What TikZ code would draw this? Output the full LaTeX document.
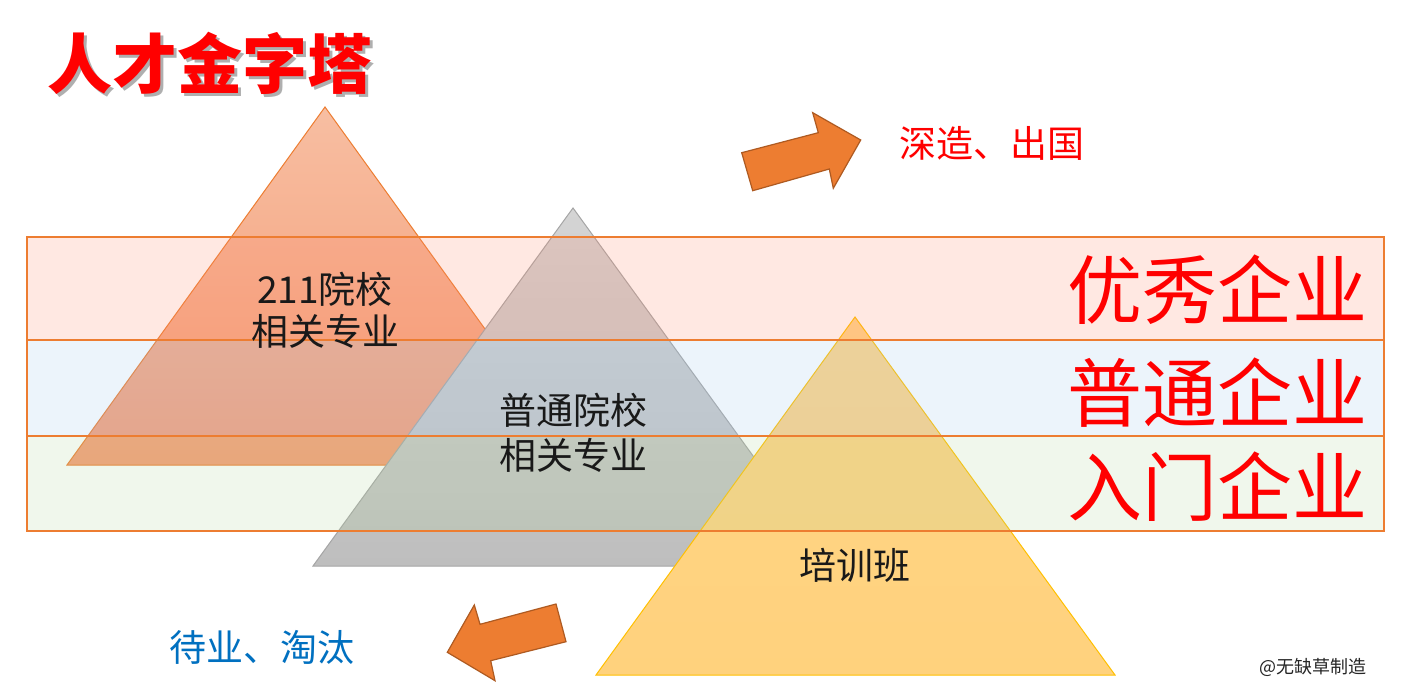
\documentclass[tikz,border=0pt]{standalone}
\usepackage{fontspec}
\newfontfamily\cjk{Noto Sans CJK SC}
\usetikzlibrary{calc}
\definecolor{titlered}{RGB}{255,0,0}
\definecolor{titleshadow}{RGB}{175,175,175}
\definecolor{arroworange}{RGB}{237,125,49}
\definecolor{arrowedge}{RGB}{174,90,33}
\definecolor{bandline}{RGB}{237,125,49}
\definecolor{bandpink}{RGB}{255,140,110}
\definecolor{bandblue}{RGB}{160,200,235}
\definecolor{bandgreen}{RGB}{180,215,160}
\definecolor{triAtop}{RGB}{247,190,162}
\definecolor{triAbot}{RGB}{245,155,115}
\definecolor{triAedge}{RGB}{237,125,49}
\definecolor{triBtop}{RGB}{212,212,212}
\definecolor{triBbot}{RGB}{190,190,190}
\definecolor{triBedge}{RGB}{165,165,165}
\definecolor{triCtop}{RGB}{255,212,135}
\definecolor{triCbot}{RGB}{255,210,125}
\definecolor{triCedge}{RGB}{255,192,0}
\definecolor{blueword}{RGB}{0,112,192}
\tikzset{
  bigarrow/.style={fill=arroworange, draw=arrowedge, line width=1.2pt, line join=miter},
  bandfill/.style={fill opacity=0.2},
  bandedge/.style={draw=bandline, line width=2pt},
  tritext/.style={font=\cjk\fontsize{37}{44}\selectfont, text=black!90, align=center, inner sep=0pt},
  bandlabel/.style={font=\cjk\fontsize{75}{80}\selectfont, text=titlered, inner sep=0pt, anchor=east},
  sidetext/.style={font=\cjk\fontsize{37}{44}\selectfont, inner sep=0pt},
}
\begin{document}
\begin{tikzpicture}[x=1pt,y=-1pt]
\useasboundingbox (0,0) rectangle (1415,690);
\fill[white] (0,0) rectangle (1415,690);
% triangles
\shadedraw[top color=triAtop, bottom color=triAbot, draw=triAedge, line width=1pt]
  (325,107) -- (583,465) -- (67,465) -- cycle;
\shadedraw[top color=triBtop, bottom color=triBbot, draw=triBedge, line width=1pt]
  (573,208) -- (833,566) -- (313,566) -- cycle;
\shadedraw[top color=triCtop, bottom color=triCbot, draw=triCedge, line width=1pt]
  (855,317) -- (1115,675) -- (596,675) -- cycle;
% bands
\fill[bandpink, bandfill] (27,237) rectangle (1384,340);
\fill[bandblue, bandfill] (27,340) rectangle (1384,436);
\fill[bandgreen, bandfill] (27,436) rectangle (1384,531);
\draw[bandedge] (27,237) rectangle (1384,340);
\draw[bandedge] (27,340) rectangle (1384,436);
\draw[bandedge] (27,436) rectangle (1384,531);
% arrows
\draw[bigarrow] (741.7,152.7) -- (818.3,132.7) -- (812.7,112.7) -- (860.7,140) -- (833.3,188.3) -- (829.3,169) -- (752.7,190.7) -- cycle;
\draw[bigarrow] (556,604) -- (566,641.7) -- (490.7,660.7) -- (495,680.7) -- (447.3,652.3) -- (474.3,605) -- (480,624.3) -- cycle;
% title with soft shadow (single node)
\node[font=\cjk\bfseries\fontsize{65}{70}\selectfont, text=titlered, inner sep=0pt] (title) at (210,65)
  {\makebox[0pt][l]{\kern3pt\raisebox{-3pt}{\textcolor{titleshadow}{人才金字塔}}}人才金字塔};
% triangle texts
\node[tritext] (t211a) at (325,289) {211院校};
\node[tritext] (t211b) at (325,331) {相关专业};
\node[tritext] (tputa) at (573,410) {普通院校};
\node[tritext] (tputb) at (573,455) {相关专业};
\node[tritext] (tpx) at (855,565) {培训班};
% band labels
\node[bandlabel] (lyx) at (1368,290) {优秀企业};
\node[bandlabel] (lpt) at (1368,393) {普通企业};
\node[bandlabel] (lrm) at (1368,487) {入门企业};
% side texts
\node[sidetext, text=titlered] (sz) at (992,143) {深造、出国};
\node[sidetext, text=blueword] (dy) at (262,647) {待业、淘汰};
\node[font=\cjk\fontsize{18}{20}\selectfont, inner sep=0pt, text=black!85] (sign) at (1313,667) {@无缺草制造};
\end{tikzpicture}
\end{document}
